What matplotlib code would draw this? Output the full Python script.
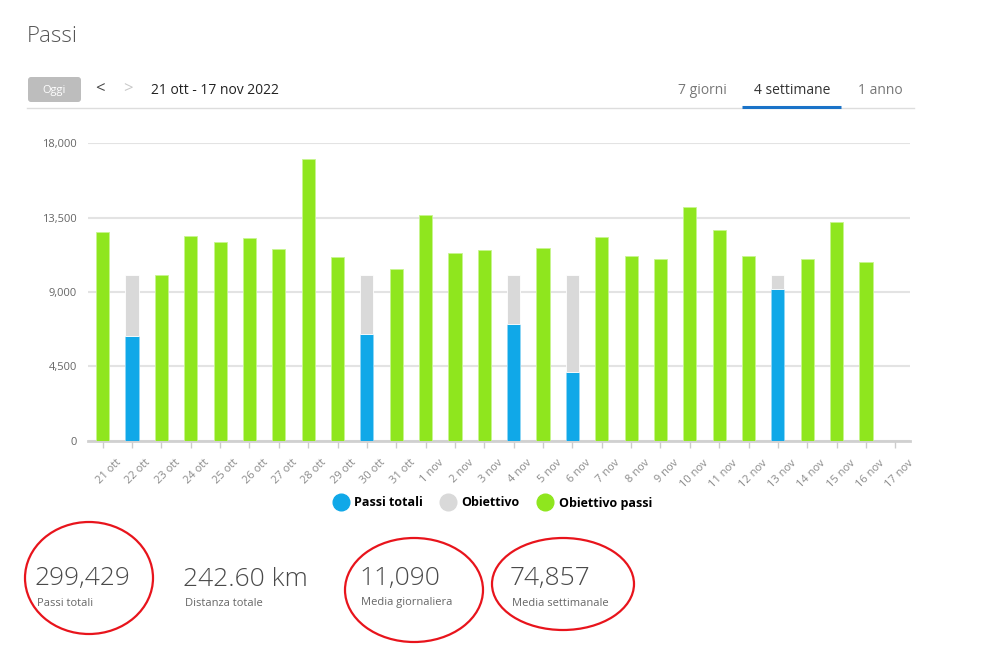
import matplotlib.pyplot as plt
from matplotlib.lines import Line2D
from matplotlib.patches import Ellipse, FancyBboxPatch
from matplotlib.ticker import FuncFormatter
from matplotlib.transforms import ScaledTranslation

plt.rcParams['font.family'] = ['Open Sans', 'DejaVu Sans']

# dati
giorni = ['21 ott', '22 ott', '23 ott', '24 ott', '25 ott', '26 ott', '27 ott',
          '28 ott', '29 ott', '30 ott', '31 ott', '1 nov', '2 nov', '3 nov',
          '4 nov', '5 nov', '6 nov', '7 nov', '8 nov', '9 nov', '10 nov',
          '11 nov', '12 nov', '13 nov', '14 nov', '15 nov', '16 nov', '17 nov']
passi = [12650, 6355, 10010, 12390, 12045, 12270, 11600, 17050, 11120, 6440,
         10375, 13660, 11340, 11525, 7065, 11660, 4160, 12345, 11180, 10980,
         14145, 12735, 11195, 9180, 10980, 13220, 10800, 0]
obiettivo = [10000] * len(giorni)
y_ticks = [0, 4500, 9000, 13500, 18000]

stats_valori = ['299,429', '242.60 km', '11,090', '74,857']
stats_nomi = ['Passi totali', 'Distanza totale', 'Media giornaliera', 'Media settimanale']

BLU = '#10a8e8'
GRIGIO = '#d9d9d9'
VERDE = '#8fe61e'

W, H = 1007, 645
fig = plt.figure(figsize=(W / 100, H / 100), dpi=100)

# asse del grafico (in pixel: x 88-910, y 143-441)
ax = fig.add_axes([88 / W, 1 - 440.7 / H, 822 / W, 297.4 / H])
x = list(range(len(giorni)))
for i in x:
    p, g = passi[i], obiettivo[i]
    if p == 0:
        continue
    if p >= g:
        ax.bar(i, p, width=0.45, color=VERDE, edgecolor='#c8f590', linewidth=0.6, zorder=3)
    else:
        ax.bar(i, p, width=0.45, color=BLU, edgecolor='#8fd6f5', linewidth=0.6, zorder=3)
        ax.bar(i, g - p, bottom=p, width=0.45, color=GRIGIO, edgecolor='white', linewidth=0.6, zorder=3)

ax.set_xlim(-0.5, len(giorni) - 0.5)
ax.set_ylim(0, 18000)
ax.set_yticks(y_ticks)
ax.yaxis.set_major_formatter(FuncFormatter(lambda v, _: f'{int(v):,}'))
ax.grid(axis='y', color='#e3e3e3', linewidth=1.5, zorder=0)
for s in ['top', 'right', 'left']:
    ax.spines[s].set_visible(False)
ax.spines['bottom'].set_color('#d0d0d0')
ax.spines['bottom'].set_linewidth(2)
ax.tick_params(axis='y', length=0, pad=8, labelsize=8, labelcolor='#666666')
ax.set_xticks(x)
ax.set_xticklabels(giorni, rotation=45, ha='right', va='top', rotation_mode='anchor')
ax.tick_params(axis='x', length=5, width=1, color='#cccccc', pad=7, labelsize=8, labelcolor='#8a8a8a')
sposta = ScaledTranslation(0.13, 0, fig.dpi_scale_trans)
for lab in ax.get_xticklabels():
    lab.set_transform(lab.get_transform() + sposta)

# legenda
handles = [Line2D([], [], marker='o', ls='', color=c, markersize=12)
           for c in [BLU, GRIGIO, VERDE]]
fig.legend(handles, ['Passi totali', 'Obiettivo', 'Obiettivo passi'], loc='center',
           bbox_to_anchor=(490 / W, 1 - 503 / H), ncol=3, frameon=False,
           prop={'weight': 'bold', 'size': 9}, handletextpad=0.1, columnspacing=1.0)

# livello in pixel per intestazione e riepilogo
ov = fig.add_axes([0, 0, 1, 1], zorder=-1)
ov.set_xlim(0, W)
ov.set_ylim(H, 0)
ov.axis('off')

ov.text(27, 37, 'Passi', fontsize=16, color='#555555', fontweight='light', va='center')
ov.add_patch(FancyBboxPatch((28, 77), 53, 25, boxstyle='round,pad=0,rounding_size=3',
                            fc='#bdbdbd', ec='none'))
ov.text(54.5, 90, 'Oggi', fontsize=8, color='white', ha='center', va='center')
ov.text(100, 89, '<', fontsize=12, color='#444444', ha='center', va='center')
ov.text(128, 89, '>', fontsize=12, color='#c8c8c8', ha='center', va='center')
ov.text(151, 91, '21 ott - 17 nov 2022', fontsize=10, color='#222222', va='center')
ov.plot([27, 914], [107.5, 107.5], color='#dddddd', lw=1)
ov.text(702, 90, '7 giorni', fontsize=10, color='#777777', ha='center', va='center')
ov.text(792, 90, '4 settimane', fontsize=10, color='#333333', ha='center', va='center')
ov.text(880, 90, '1 anno', fontsize=10, color='#777777', ha='center', va='center')
ov.plot([742, 841], [107, 107], color='#1a73c8', lw=2.2, solid_capstyle='butt')

xs = [37, 185, 361, 512]
for xx, v, n in zip(xs, stats_valori, stats_nomi):
    ov.text(xx - 2, 579, v, fontsize=19, color='#4a4a4a', fontweight='light', va='center')
    ov.text(xx, 603, n, fontsize=8, color='#666666', va='center')

for cx, cy, w, h in [(89, 578, 128, 112), (414, 590, 138, 104), (563, 584, 142, 92)]:
    ov.add_patch(Ellipse((cx, cy), w, h, fill=False, ec='#e8141c', lw=1.6))

fig.savefig('out.png', dpi=100)
